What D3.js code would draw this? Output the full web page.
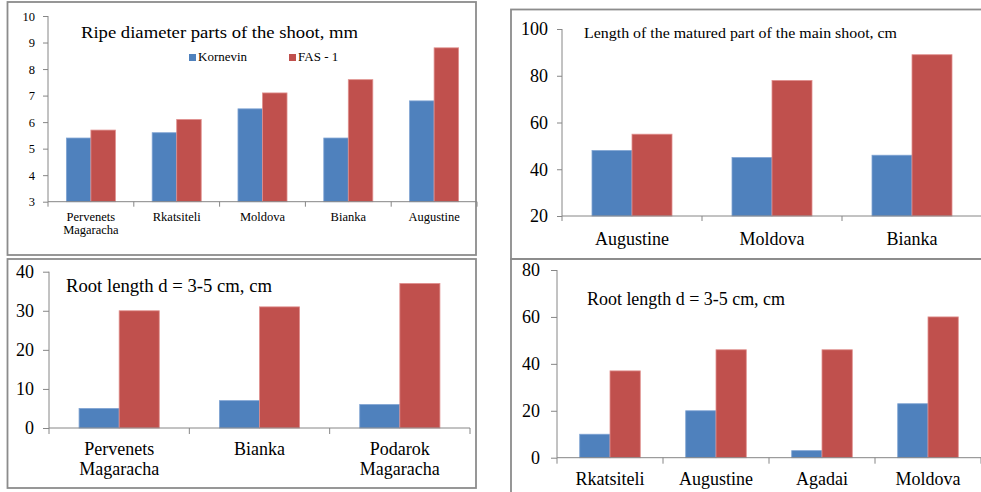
<!DOCTYPE html>
<html>
<head>
<meta charset="utf-8">
<script src="https://cdn.jsdelivr.net/npm/d3@7"></script>
<style>
  html, body { margin: 0; padding: 0; background: #fff; }
  svg { display: block; }
  svg text { font-family: "Liberation Serif", "Times New Roman", serif !important; fill: #000; }
</style>
</head>
<body>
<script>
// Series shared by all four panels
const seriesNames = ["Kornevin", "FAS - 1"];
const seriesColors = ["#4F81BD", "#C0504D"];
const seriesEdges = ["#7FA3D3", "#E0908E"];

// Ripe diameter of the shoot, mm
const diamCategories = ["Pervenets\nMagaracha", "Rkatsiteli", "Moldova", "Bianka", "Augustine"];
const diamKornevin = [5.4, 5.6, 6.5, 5.4, 6.8];
const diamFas = [5.7, 6.1, 7.1, 7.6, 8.8];
const diamTicks = [3, 4, 5, 6, 7, 8, 9, 10];

// Length of the matured part of the main shoot, cm
const lenCategories = ["Augustine", "Moldova", "Bianka"];
const lenKornevin = [48, 45, 46];
const lenFas = [55, 78, 89];
const lenTicks = [20, 40, 60, 80, 100];

// Root length d = 3-5 cm (first set of varieties)
const rootACategories = ["Pervenets\nMagaracha", "Bianka", "Podarok\nMagaracha"];
const rootAKornevin = [5, 7, 6];
const rootAFas = [30, 31, 37];
const rootATicks = [0, 10, 20, 30, 40];

// Root length d = 3-5 cm (second set of varieties)
const rootBCategories = ["Rkatsiteli", "Augustine", "Agadai", "Moldova"];
const rootBKornevin = [10, 20, 3, 23];
const rootBFas = [37, 46, 46, 60];
const rootBTicks = [0, 20, 40, 60, 80];

const W = 981, H = 492;
const svg = d3.select("body").append("svg").attr("width", W).attr("height", H);

const serif = "'Liberation Serif', 'Times New Roman', serif";
const frameColor = "#8C8C8C";
const axisColor = "#868686";

// Panel frames
const frames = [
  [7.5, 2, 468.5, 253],
  [511, 9.5, 490, 249.5],
  [7.5, 259, 468.5, 229],
  [511, 259, 490, 240]
];
svg.selectAll("rect.frame").data(frames).join("rect")
  .attr("class", "frame")
  .attr("x", d => d[0]).attr("y", d => d[1])
  .attr("width", d => d[2]).attr("height", d => d[3])
  .attr("fill", "none").attr("stroke", frameColor).attr("stroke-width", 1.8);

function drawPanel(p) {
  const g = svg.append("g").style("font-family", serif);
  const x0 = d3.scaleBand().domain(d3.range(p.categories.length)).range(p.xRange).padding(0);
  const x1 = d3.scaleBand().domain(d3.range(seriesNames.length))
    .range([0, x0.bandwidth()]).paddingInner(0).paddingOuter(0.75);
  const y = d3.scaleLinear().domain(p.yDomain).range(p.yRange);

  // Bars
  p.values.forEach((vals, si) => {
    g.append("g").selectAll("rect").data(vals).join("rect")
      .attr("x", (d, i) => x0(i) + x1(si))
      .attr("width", x1.bandwidth())
      .attr("y", d => y(d))
      .attr("height", d => y(p.yDomain[0]) - y(d))
      .attr("fill", seriesColors[si])
      .attr("stroke", seriesEdges[si])
      .attr("stroke-width", 0.8);
  });

  // Y axis
  const yAxis = d3.axisLeft(y).tickValues(p.ticks).tickSize(p.tickLen).tickPadding(p.tickPad).tickFormat(d3.format("d"));
  const ya = g.append("g").attr("transform", `translate(${p.xRange[0]},0)`).call(yAxis)
    .attr("font-family", null).style("font-family", serif);
  ya.select(".domain").attr("stroke", axisColor).attr("d", `M0,${p.yRange[0]}V${p.yRange[1]}`);
  ya.selectAll(".tick line").attr("stroke", axisColor);
  ya.selectAll(".tick text").attr("font-size", p.tickFont).style("font-family", serif).attr("fill", "#000");

  // X axis with ticks at category boundaries
  const xa = g.append("g").attr("transform", `translate(0,${p.yRange[0]})`);
  xa.append("path").attr("d", `M${p.xRange[0]},0H${p.xRange[1]}`).attr("stroke", axisColor).attr("fill", "none");
  const bounds = d3.range(p.categories.length + 1).map(i => i < p.categories.length ? x0(i) : p.xRange[1]);
  xa.selectAll("line").data(bounds).join("line")
    .attr("x1", d => d).attr("x2", d => d).attr("y1", 0).attr("y2", p.tickLen)
    .attr("stroke", axisColor);
  xa.selectAll("text.cat").data(p.categories).join("text")
    .attr("class", "cat")
    .attr("text-anchor", "middle")
    .attr("font-size", p.catFont)
    .attr("transform", (d, i) => `translate(${x0(i) + x0.bandwidth() / 2},${p.catOffset})`)
    .each(function(d) {
      const lines = d.split("\n");
      d3.select(this).selectAll("tspan").data(lines).join("tspan")
        .attr("x", 0).attr("dy", (l, k) => k === 0 ? 0 : p.catLine)
        .text(l => l);
    });

  // Title
  const t = g.append("text").attr("x", p.title.x).attr("y", p.title.y)
    .attr("font-size", p.title.size).text(p.title.text);
  if (p.title.len) t.attr("textLength", p.title.len).attr("lengthAdjust", "spacingAndGlyphs");
  return g;
}

drawPanel({
  categories: diamCategories, values: [diamKornevin, diamFas], ticks: diamTicks,
  xRange: [48, 477], yDomain: [3, 10], yRange: [201.7, 16],
  tickLen: 5, tickPad: 8, tickFont: 12.5, catFont: 12.5, catOffset: 19.5, catLine: 13,
  title: { x: 81, y: 38, size: 17.3, text: "Ripe diameter parts of the shoot, mm", len: 277 }
});

drawPanel({
  categories: lenCategories, values: [lenKornevin, lenFas], ticks: lenTicks,
  xRange: [562, 982], yDomain: [20, 100], yRange: [216, 29],
  tickLen: 5, tickPad: 9, tickFont: 18, catFont: 18, catOffset: 29, catLine: 20,
  title: { x: 584, y: 38, size: 15.5, text: "Length of the matured part of the main shoot, cm", len: 313 }
});

drawPanel({
  categories: rootACategories, values: [rootAKornevin, rootAFas], ticks: rootATicks,
  xRange: [49, 470], yDomain: [0, 40], yRange: [428, 271.7],
  tickLen: 6, tickPad: 9, tickFont: 18, catFont: 18, catOffset: 27, catLine: 20,
  title: { x: 66, y: 292, size: 18.5, text: "Root length d = 3-5 cm, cm", len: 206 }
});

drawPanel({
  categories: rootBCategories, values: [rootBKornevin, rootBFas], ticks: rootBTicks,
  xRange: [557, 981], yDomain: [0, 80], yRange: [457.7, 270],
  tickLen: 6, tickPad: 11, tickFont: 18, catFont: 18, catOffset: 27, catLine: 20,
  title: { x: 587, y: 305, size: 18.5, text: "Root length d = 3-5 cm, cm", len: 198 }
});

// Legend for the diameter panel
const legend = svg.append("g").style("font-family", serif).selectAll("g").data(seriesNames).join("g")
  .attr("transform", (d, i) => `translate(${189 + i * 100},54)`);
legend.append("rect").attr("width", 7).attr("height", 7)
  .attr("fill", (d, i) => seriesColors[i]);
legend.append("text").attr("x", 9).attr("y", 7).attr("font-size", 13).text(d => d);
</script>
</body>
</html>
